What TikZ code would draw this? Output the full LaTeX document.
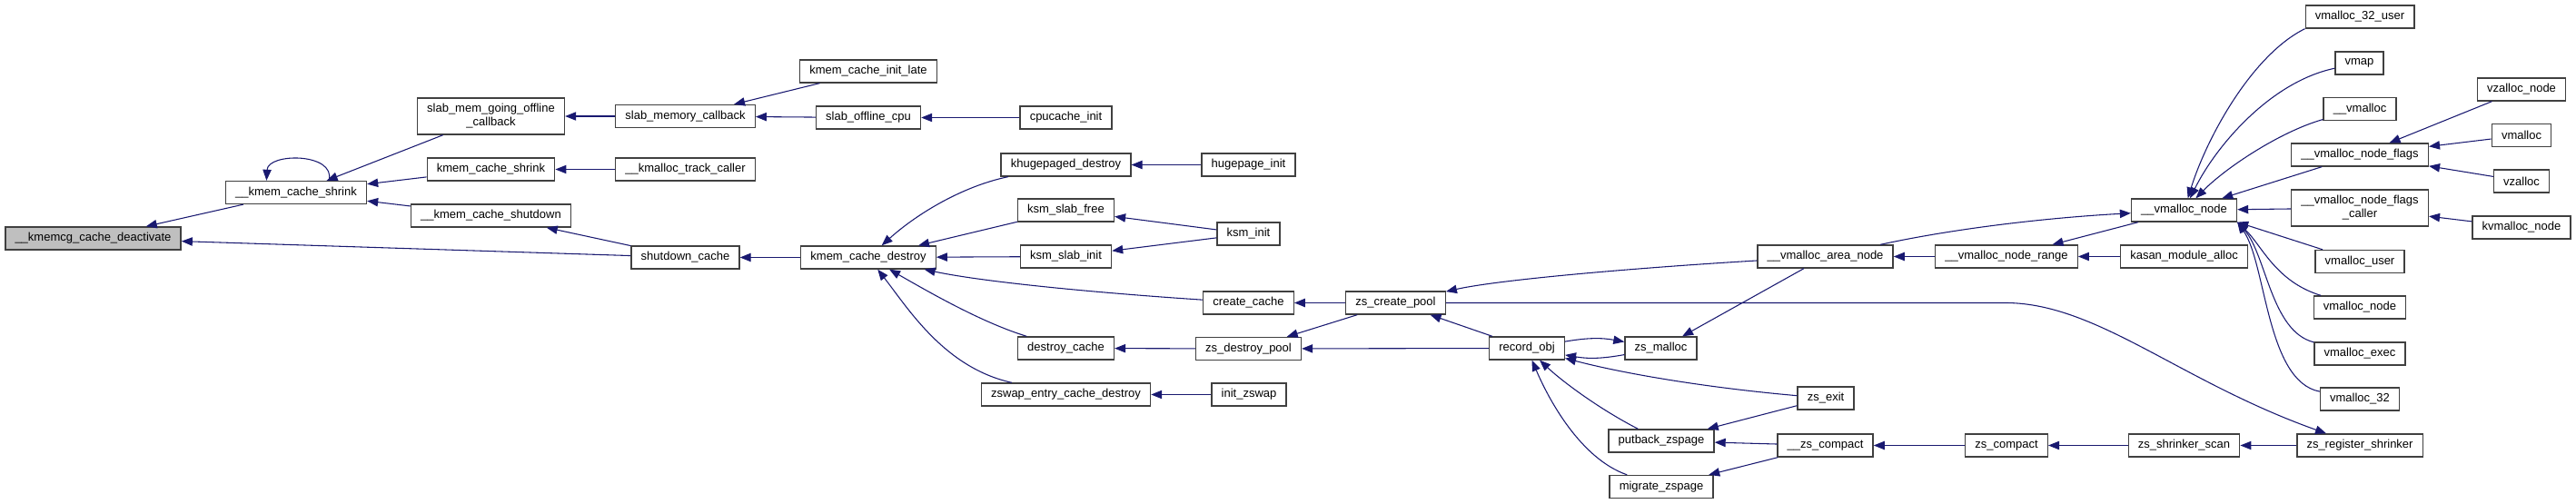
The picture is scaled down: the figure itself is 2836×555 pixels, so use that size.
\documentclass[tikz,border=0pt]{standalone}
\usepackage{fontspec}
\setmainfont{Liberation Sans}
\usetikzlibrary{arrows.meta}
\definecolor{edgeblue}{HTML}{191970}
\definecolor{nodeline}{HTML}{404040}
\definecolor{rootgray}{HTML}{BFBFBF}

\begin{document}
\begin{tikzpicture}[x=0.75pt, y=-0.75pt,
  box/.style={draw=nodeline, line width=1pt, fill=white, align=center, minimum height=18.75pt, inner xsep=8pt, inner ysep=2pt, font=\fontsize{9.75}{11.25}\selectfont},
  twoline/.style={box, minimum height=30pt},
  rootbox/.style={box, fill=rootgray},
  arrow/.style={-{Triangle[length=9pt,width=7pt]}, line width=0.8pt, draw=edgeblue}
]
\useasboundingbox (0,0) rectangle (2836,555);

\node[rootbox] (deact) at (102.5,262.5) {\_\_kmemcg\_cache\_deactivate};
\node[box] (kshrink) at (326,212) {\_\_kmem\_cache\_shrink};
\node[twoline] (smgoc) at (540.5,128) {slab\_mem\_going\_offline\\\_callback};
\node[box] (kmcs) at (540.5,186.5) {kmem\_cache\_shrink};
\node[box] (kcshut) at (540.5,237.5) {\_\_kmem\_cache\_shutdown};
\node[box] (smcb) at (754.5,128) {slab\_memory\_callback};
\node[box] (kmtc) at (754.5,186.5) {\_\_kmalloc\_track\_caller};
\node[box] (shutc) at (754.5,283.5) {shutdown\_cache};
\node[box] (kcil) at (956,78.5) {kmem\_cache\_init\_late};
\node[box] (soc) at (956,129.5) {slab\_offline\_cpu};
\node[box] (kcd) at (956,283.5) {kmem\_cache\_destroy};
\node[box] (cpui) at (1173.5,129.5) {cpucache\_init};
\node[box] (khd) at (1173.5,181.5) {khugepaged\_destroy};
\node[box] (ksf) at (1173.5,231.5) {ksm\_slab\_free};
\node[box] (ksi) at (1173.5,282.5) {ksm\_slab\_init};
\node[box] (dc) at (1173.5,383.5) {destroy\_cache};
\node[box] (zecd) at (1173.5,434.5) {zswap\_entry\_cache\_destroy};
\node[box] (hpi) at (1374.5,181.5) {hugepage\_init};
\node[box] (ksmi) at (1374.5,257.5) {ksm\_init};
\node[box] (cc) at (1374.5,333.5) {create\_cache};
\node[box] (zdp) at (1374.5,384) {zs\_destroy\_pool};
\node[box] (izs) at (1375,434.5) {init\_zswap};
\node[box] (zcp) at (1536.5,333.5) {zs\_create\_pool};
\node[box] (robj) at (1681,383.5) {record\_obj};
\node[box] (zsm) at (1828.5,383.5) {zs\_malloc};
\node[box] (pbz) at (1829,485.5) {putback\_zspage};
\node[box] (mgz) at (1829,536) {migrate\_zspage};
\node[box] (van) at (2009.5,282.5) {\_\_vmalloc\_area\_node};
\node[box] (zsexit) at (2010,438.5) {zs\_exit};
\node[box] (zsc) at (2009.5,490.5) {\_\_zs\_compact};
\node[box] (vnr) at (2209,282.5) {\_\_vmalloc\_node\_range};
\node[box] (zcmp) at (2209,490.5) {zs\_compact};
\node[box] (vn) at (2404.5,231.5) {\_\_vmalloc\_node};
\node[box] (kasan) at (2404.5,282.5) {kasan\_module\_alloc};
\node[box] (zss) at (2404.5,490.5) {zs\_shrinker\_scan};
\node[box] (v32u) at (2598,18.5) {vmalloc\_32\_user};
\node[box] (vmap) at (2597.5,69.5) {vmap};
\node[box] (uvm) at (2598,120) {\_\_vmalloc};
\node[box] (vnf) at (2598,170.5) {\_\_vmalloc\_node\_flags};
\node[twoline] (vnfc) at (2598,229) {\_\_vmalloc\_node\_flags\\\_caller};
\node[box] (vmu) at (2598,288) {vmalloc\_user};
\node[box] (vmn) at (2598,338.5) {vmalloc\_node};
\node[box] (vme) at (2598,389.5) {vmalloc\_exec};
\node[box] (v32) at (2598,439.5) {vmalloc\_32};
\node[box] (zrs) at (2598,490.5) {zs\_register\_shrinker};
\node[box] (vzn) at (2776,98.5) {vzalloc\_node};
\node[box] (vml) at (2776,149) {vmalloc};
\node[box] (vza) at (2776,199.5) {vzalloc};
\node[box] (kvn) at (2776,250.5) {kvmalloc\_node};
\coordinate (zrsbend) at (2210,333.5);

\draw[arrow] (kshrink) -- (deact);
\draw[arrow] (kshrink.20) .. controls (370,168) and (295,168) .. (kshrink.158);
\draw[arrow] (shutc) -- (deact);
\draw[arrow] (smgoc) -- (kshrink);
\draw[arrow] (kmcs) -- (kshrink);
\draw[arrow] (kcshut) -- (kshrink);
\draw[arrow] (smcb) -- (smgoc);
\draw[arrow] (kmtc) -- (kmcs);
\draw[arrow] (shutc) -- (kcshut);
\draw[arrow] (kcd) -- (shutc);
\draw[arrow] (kcil) -- (smcb);
\draw[arrow] (soc) -- (smcb);
\draw[arrow] (cpui) -- (soc);
\draw[arrow] (khd) .. controls (1060,205) and (1010,235) .. (kcd);
\draw[arrow] (ksf) -- (kcd);
\draw[arrow] (ksi) -- (kcd);
\draw[arrow] (cc) .. controls (1200,322) and (1080,310) .. (kcd);
\draw[arrow] (dc) .. controls (1080,355) and (1020,320) .. (kcd);
\draw[arrow] (zecd) .. controls (1040,405) and (1000,340) .. (kcd);
\draw[arrow] (hpi) -- (khd);
\draw[arrow] (ksmi) -- (ksf);
\draw[arrow] (ksmi) -- (ksi);
\draw[arrow] (zcp) -- (cc);
\draw[arrow] (zcp) -- (zdp);
\draw[arrow] (zdp) -- (dc);
\draw[arrow] (izs) -- (zecd);
\draw[arrow] (robj) -- (zcp);
\draw[arrow] (robj) -- (zdp);
\draw[arrow] (van) .. controls (1800,295) and (1650,308) .. (zcp);
\draw[arrow] (zcp) -- (zrsbend) .. controls (2310,335) and (2400,420) .. (zrs);
\draw[arrow] (robj) to[bend left=10] (zsm);
\draw[arrow] (zsm) to[bend left=10] (robj);
\draw[arrow] (van) -- (zsm);
\draw[arrow] (zsexit) .. controls (1880,427) and (1790,412) .. (robj);
\draw[arrow] (pbz) .. controls (1760,450) and (1720,420) .. (robj);
\draw[arrow] (mgz) .. controls (1740,505) and (1705,440) .. (robj);
\draw[arrow] (zsexit) -- (pbz);
\draw[arrow] (zsc) -- (pbz);
\draw[arrow] (zsc) -- (mgz);
\draw[arrow] (zcmp) -- (zsc);
\draw[arrow] (zss) -- (zcmp);
\draw[arrow] (zrs) -- (zss);
\draw[arrow] (vnr) -- (van);
\draw[arrow] (vn) -- (vnr);
\draw[arrow] (van) .. controls (2150,252) and (2250,240) .. (vn);
\draw[arrow] (kasan) -- (vnr);
\draw[arrow] (v32u.south west) .. controls (2480,60) and (2430,150) .. (vn);
\draw[arrow] (vmap) .. controls (2500,90) and (2440,160) .. (vn);
\draw[arrow] (uvm) .. controls (2510,145) and (2450,185) .. (vn);
\draw[arrow] (vnf) -- (vn);
\draw[arrow] (vnfc) -- (vn);
\draw[arrow] (vmu) -- (vn.south east);
\draw[arrow] (vmn) .. controls (2505,310) and (2490,270) .. (vn.south east);
\draw[arrow] (vme) .. controls (2500,365) and (2495,280) .. (vn.south east);
\draw[arrow] (v32) .. controls (2495,420) and (2495,290) .. (vn.south east);
\draw[arrow] (vzn) -- (vnf);
\draw[arrow] (vml) -- (vnf);
\draw[arrow] (vza) -- (vnf);
\draw[arrow] (kvn) -- (vnfc);
\end{tikzpicture}
\end{document}
